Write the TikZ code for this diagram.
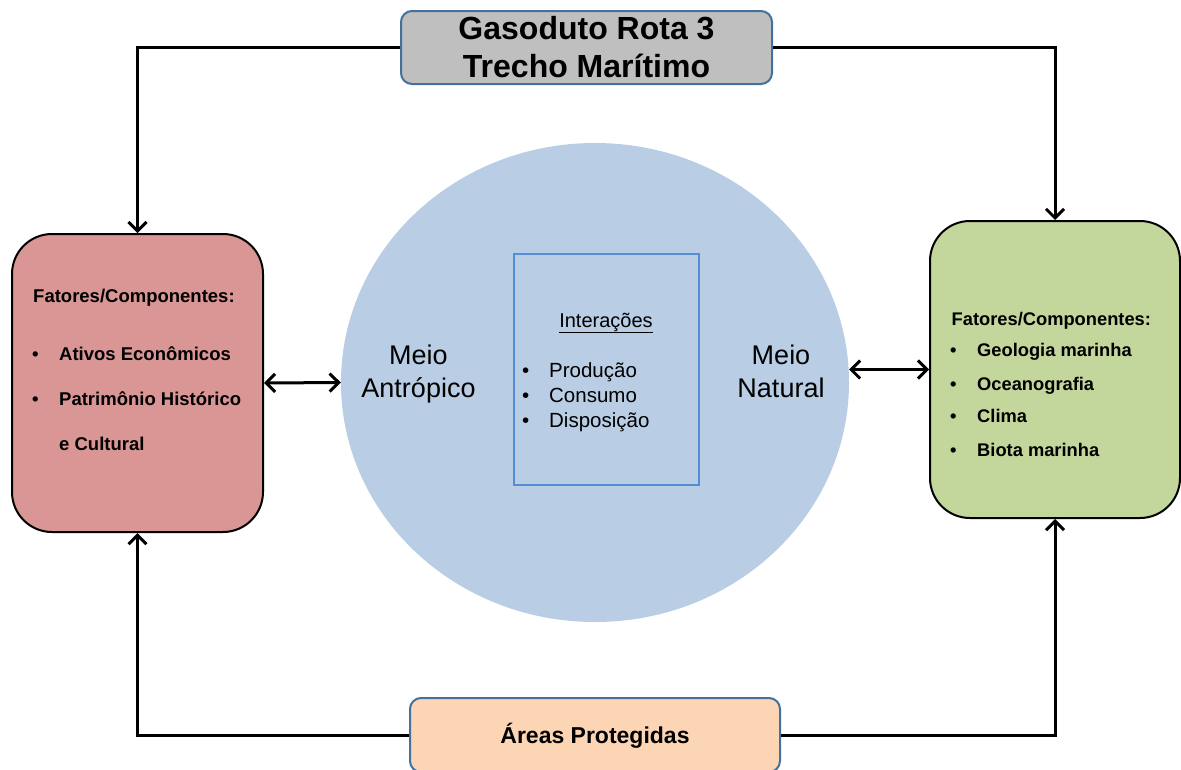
\documentclass[tikz,border=0pt]{standalone}
\usepackage{fontspec}
\setmainfont{Liberation Sans}
\usetikzlibrary{arrows.meta,shapes.geometric}
\definecolor{topgray}{HTML}{BFBFBF}
\definecolor{boxblue}{HTML}{41719C}
\definecolor{redfill}{HTML}{D99694}
\definecolor{greenfill}{HTML}{C3D69B}
\definecolor{circfill}{HTML}{B9CDE5}
\definecolor{innerblue}{HTML}{558ED5}
\definecolor{peach}{HTML}{FCD5B5}
\tikzset{
  hdrbox/.style={draw=boxblue,line width=2pt,rounded corners=11pt,inner sep=0pt},
  sidebox/.style={draw=black,line width=2pt,rounded corners=40pt,inner sep=0pt},
  tipx/.tip={Straight Barb[length=9pt,width=18pt,line width=3pt]},
  conn/.style={line width=3pt,-tipx},
  dbl/.style={line width=3pt,tipx-tipx},
  txt/.style={inner sep=0pt,anchor=base},
  itm/.style={inner sep=0pt,anchor=base west},
}
\begin{document}
\begin{tikzpicture}[x=1pt,y=-1pt]
\useasboundingbox (0,0) rectangle (1181,769);
% circle and inner box
\node[ellipse,fill=circfill,minimum width=508pt,minimum height=479pt,inner sep=0pt] (circ) at (595,382.5) {};
\node[draw=innerblue,line width=2pt,minimum width=185pt,minimum height=231pt,inner sep=0pt] (inner) at (606.5,369.5) {};
% boxes
\node[hdrbox,fill=topgray,minimum width=371pt,minimum height=73pt] (top) at (586.5,47.5) {};
\node[hdrbox,fill=peach,minimum width=370pt,minimum height=74pt] (bot) at (595,735) {};
\node[sidebox,fill=redfill,minimum width=251pt,minimum height=298pt] (left) at (137.5,383) {};
\node[sidebox,fill=greenfill,minimum width=250pt,minimum height=297pt] (right) at (1055,369.5) {};
% connectors
\draw[conn] (top.west) -| (left.north);
\draw[conn] (top.east) -| (right.north);
\draw[conn] (bot.west) -| (left.south);
\draw[conn] (bot.east) -| (right.south);
\draw[dbl] (left.east) -- (circ.west);
\coordinate (rc) at (849,369.5);
\draw[dbl] (rc) -- (right.west);
% header texts
\node[txt,font=\bfseries\fontsize{32}{38}\selectfont] (t1) at (586.5,39.5) {Gasoduto Rota 3};
\node[txt,font=\bfseries\fontsize{32}{38}\selectfont] (t2) at (586.5,77.5) {Trecho Marítimo};
\node[txt,font=\bfseries\fontsize{23}{28}\selectfont] (b1) at (595,743.5) {Áreas Protegidas};
% Meio texts
\node[txt,font=\fontsize{27}{32}\selectfont] (ma1) at (418.5,364) {Meio};
\node[txt,font=\fontsize{27}{32}\selectfont] (ma2) at (418.5,397) {Antrópico};
\node[txt,font=\fontsize{27}{32}\selectfont] (mn1) at (781,364) {Meio};
\node[txt,font=\fontsize{27}{32}\selectfont] (mn2) at (781,397) {Natural};
% inner texts
\node[txt,font=\fontsize{20}{24}\selectfont] (int) at (606,327) {\underline{Interações}};
\node[itm,font=\fontsize{20.5}{24}\selectfont] (i1) at (522,377.3) {\makebox[27pt][l]{•}Produção};
\node[itm,font=\fontsize{20.5}{24}\selectfont] (i2) at (522,402.3) {\makebox[27pt][l]{•}Consumo};
\node[itm,font=\fontsize{20.5}{24}\selectfont] (i3) at (522,427.3) {\makebox[27pt][l]{•}Disposição};
% left box texts
\node[itm,font=\bfseries\fontsize{18.5}{22}\selectfont] (lt) at (33,302) {Fatores/Componentes:};
\node[itm,font=\bfseries\fontsize{18.5}{22}\selectfont] (l1) at (32,360) {\makebox[27pt][l]{•}Ativos Econômicos};
\node[itm,font=\bfseries\fontsize{18.5}{22}\selectfont] (l2) at (32,405) {\makebox[27pt][l]{•}Patrimônio Histórico};
\node[itm,font=\bfseries\fontsize{18.5}{22}\selectfont] (l3) at (59,450) {e Cultural};
% right box texts
\node[itm,font=\bfseries\fontsize{18.3}{22}\selectfont] (rt) at (951.5,325) {Fatores/Componentes:};
\node[itm,font=\bfseries\fontsize{18.3}{22}\selectfont] (r1) at (950,356) {\makebox[27pt][l]{•}Geologia marinha};
\node[itm,font=\bfseries\fontsize{18.3}{22}\selectfont] (r2) at (950,390) {\makebox[27pt][l]{•}Oceanografia};
\node[itm,font=\bfseries\fontsize{18.3}{22}\selectfont] (r3) at (950,422.7) {\makebox[27pt][l]{•}Clima};
\node[itm,font=\bfseries\fontsize{18.3}{22}\selectfont] (r4) at (950,456) {\makebox[27pt][l]{•}Biota marinha};
\end{tikzpicture}
\end{document}
